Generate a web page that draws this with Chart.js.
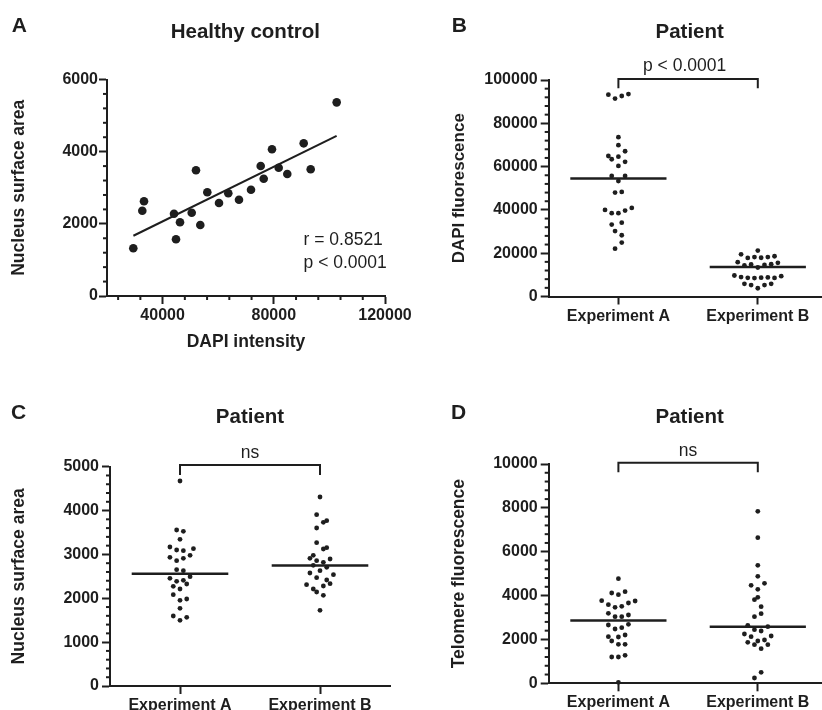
<!DOCTYPE html>
<html>
<head>
<meta charset="utf-8">
<script src="https://cdn.jsdelivr.net/npm/chart.js@4.4.1/dist/chart.umd.min.js"></script>
<style>
  html, body { margin: 0; padding: 0; background: #fff; overflow: hidden; width: 822px; height: 710px; }
  #fig { position: relative; width: 822px; height: 710px; overflow: hidden; font-family: "Liberation Sans", Arial, sans-serif; color: #1e1e1e; }
  #fig canvas { position: absolute; left: 0; top: 0; }
  .letter { position: absolute; font-size: 21px; font-weight: bold; line-height: 1; white-space: nowrap; }
  .title { position: absolute; width: 300px; text-align: center; font-size: 20.5px; font-weight: bold; line-height: 1; white-space: nowrap; }
</style>
</head>
<body>
<div id="fig">
  <canvas id="cA" width="840" height="720"></canvas>
  <canvas id="cB" width="840" height="720"></canvas>
  <canvas id="cC" width="840" height="720"></canvas>
  <canvas id="cD" width="840" height="720"></canvas>
  <div class="letter" style="left:11.7px;top:13.9px">A</div>
  <div class="letter" style="left:451.7px;top:13.9px">B</div>
  <div class="letter" style="left:11px;top:400.5px">C</div>
  <div class="letter" style="left:451px;top:400.5px">D</div>
  <div class="title" style="left:95.3px;top:21px">Healthy control</div>
  <div class="title" style="left:539.7px;top:21px">Patient</div>
  <div class="title" style="left:100px;top:406px">Patient</div>
  <div class="title" style="left:539.7px;top:406px">Patient</div>
</div>
<script>
const FONT = "'Liberation Sans', Arial, sans-serif";
const INK = "#1e1e1e";
Chart.defaults.font.family = FONT;
Chart.defaults.color = INK;

// panel A: healthy control, DAPI intensity vs nucleus surface area
const dapiIntensity = [29460, 32700, 33310, 44100, 44820, 46260, 50470, 52010, 53560, 56080, 60290,
                       63630, 67480, 71800, 75290, 76370, 79350, 81760, 84850, 90750, 93270, 102620];
const nucleusArea   = [1322, 2364, 2624, 2281, 1571, 2042, 2308, 3483, 1967, 2874, 2577,
                       2846, 2668, 2946, 3602, 3250, 4065, 3555, 3381, 4231, 3511, 5367];
const fitX = [29500, 102600];
const fitY = [1670, 4440];

const groups = ["Experiment A", "Experiment B"];

// panel B: DAPI fluorescence (steps = sideways slot of each dot in the scatter column)
const dapiExpA = [93200, 91400, 92600, 93500, 73600, 69900, 67100, 64900, 63400, 64600, 62200, 60300, 55700, 55700,
                  53300, 48000, 48300, 40000, 38500, 38500, 39700, 40900, 33200, 34100, 30200, 28300, 24900, 22100];
const dapiStepA = [-3, -1, 1, 3, 0, 0, 2, -3, -2, 0, 2, 0, -2, 2, 0, -1, 1, -4, -2, 0, 2, 4, -2, 1, -1, 1, 1, -1];
const dapiExpB = [21200, 19500, 17800, 18200, 17900, 18200, 18600, 15870, 14310, 14800, 13400, 14600, 14900, 15550,
                  9700, 8950, 8630, 8500, 8700, 8800, 8600, 9400, 5860, 5260, 3800, 5260, 5860];
const dapiStepB = [0, -5, -3, -1, 1, 3, 5, -6, -4, -2, 0, 2, 4, 6, -7, -5, -3, -1, 1, 3, 5, 7, -4, -2, 0, 2, 4];
const dapiMedians = [54500, 13570];

// panel C: nucleus surface area
const areaExpA = [4674, 3557, 3527, 3345, 3169, 3101, 3085, 3131, 2934, 2857, 2911, 2979, 2652, 2629,
                  2492, 2456, 2387, 2410, 2273, 2326, 2212, 2082, 1954, 1984, 1771, 1596, 1498, 1566];
const areaStepA = [0, -1, 1, 0, -3, -1, 1, 4, -3, -1, 1, 3, -1, 1, 3, -3, -1, 1, -2, 2, 0, -2, 0, 2, 0, -2, 0, 2];
const areaExpB = [4309, 3906, 3732, 3769, 3602, 3268, 3124, 3154, 2979, 2911, 2857, 2896, 2820, 2752,
                  2706, 2629, 2576, 2538, 2470, 2417, 2333, 2310, 2212, 2280, 2143, 2068, 1726];
const areaStepB = [0, -1, 1, 2, -1, -1, 1, 2, -2, -3, -1, 3, 1, -2, 2, 0, -3, 4, -1, 2, 3, -4, -2, 1, -1, 1, 0];
const areaMedians = [2560, 2750];

// panel D: telomere fluorescence
const teloExpA = [4770, 4118, 4040, 4177, 3767, 3584, 3466, 3511, 3662, 3753, 3192, 3037, 3037, 3114,
                  2658, 2476, 2535, 2690, 2125, 1929, 1778, 1778, 2111, 2202, 1199, 1199, 1277, 46];
const teloStepA = [0, -2, 0, 2, -5, -3, -1, 1, 3, 5, -3, -1, 1, 3, -3, -1, 1, 3, -3, -2, 0, 2, 0, 2, -2, 0, 2, 0];
const teloExpB = [7843, 6640, 5381, 4879, 4469, 4560, 4286, 3812, 3922, 3493, 3174, 3037, 2645, 2581,
                  2444, 2385, 2248, 2125, 2157, 1929, 1974, 1870, 1760, 1760, 1578, 502, 242];
const teloStepB = [0, 0, 0, 0, -2, 2, 0, -1, 0, 1, 1, -1, -3, 3, -1, 1, -4, -2, 4, 0, 2, -3, -1, 3, 1, 1, -1];
const teloMedians = [2865, 2580];

const STEP = 0.024;      // half a dot width, in category units
const CW = 840, CH = 720;

const minorTicks = {
  id: "minorTicks",
  afterDraw(chart, args, opts) {
    const ctx = chart.ctx;
    ctx.save();
    ctx.strokeStyle = INK;
    ctx.lineWidth = 2;
    ["x", "y"].forEach(id => {
      const step = opts[id];
      if (!step) return;
      const s = chart.scales[id];
      const majors = s.ticks.map(t => t.value);
      for (let v = Math.ceil(s.min / step) * step; v <= s.max + 1e-6; v += step) {
        if (majors.some(m => Math.abs(m - v) < step / 10)) continue;
        const p = s.getPixelForValue(v);
        ctx.beginPath();
        if (id === "y") { ctx.moveTo(s.right - 4, p); ctx.lineTo(s.right, p); }
        else { ctx.moveTo(p, s.top); ctx.lineTo(p, s.top + 4); }
        ctx.stroke();
      }
    });
    ctx.restore();
  }
};

const notes = {
  id: "notes",
  afterDraw(chart, args, opts) {
    const { ctx, scales: { x, y } } = chart;
    (opts.items || []).forEach(n => {
      ctx.save();
      ctx.font = "17.5px " + FONT;
      ctx.fillStyle = INK;
      ctx.textAlign = n.align;
      ctx.textBaseline = "alphabetic";
      ctx.fillText(n.text, x.getPixelForValue(n.x), y.getPixelForValue(n.y));
      ctx.restore();
    });
  }
};

const tickFont = { family: FONT, size: 16, weight: "bold" };
const axisGrid = { drawOnChartArea: false, tickLength: 8, tickWidth: 2, tickColor: INK };
const axisBorder = { color: INK, width: 2 };

function yAxis(min, max, step, title, titleSize, width, pad) {
  return {
    min: min, max: max,
    ticks: { stepSize: step, padding: pad, color: INK, font: tickFont, callback: v => String(v) },
    grid: axisGrid,
    border: axisBorder,
    title: { display: true, text: title, color: INK, padding: 0, font: { family: FONT, size: titleSize, weight: "bold" } },
    afterFit: s => { s.width = width; }
  };
}

function groupAxis(height) {
  return {
    type: "linear", min: -0.5, max: 1.5,
    afterBuildTicks: s => { s.ticks = groups.map((g, i) => ({ value: i })); },
    ticks: { padding: 2, color: INK, font: tickFont, callback: v => groups[v] },
    grid: axisGrid,
    border: axisBorder,
    afterFit: s => { s.height = height; }
  };
}

function swarm(values, steps, g) {
  return values.map((v, i) => ({ x: g + steps[i] * STEP, y: v }));
}

function dots(data, r) {
  return { data: data, pointRadius: r, pointHoverRadius: r, pointBackgroundColor: INK, pointBorderWidth: 0, showLine: false, clip: false };
}

function line(data, w) {
  return { data: data, showLine: true, borderColor: INK, borderWidth: w, pointRadius: 0, fill: false, clip: false };
}

function bracket(top, tip) {
  return line([{ x: 0, y: tip }, { x: 0, y: top }, { x: 1, y: top }, { x: 1, y: tip }], 2);
}

function medians(m) {
  return m.map((v, g) => line([{ x: g - 0.345, y: v }, { x: g + 0.345, y: v }], 2.5));
}

function area(left, top, right, bottom, yW, xH) {
  return { left: left - yW, top: top, right: CW - right, bottom: CH - bottom - xH };
}

function groupPanel(id, box, yW, yCfg, series, meds, br, note) {
  new Chart(document.getElementById(id), {
    type: "scatter",
    data: {
      datasets: [
        dots(swarm(series[0], series[1], 0), 2.4),
        dots(swarm(series[2], series[3], 1), 2.4),
        ...medians(meds),
        bracket(br[0], br[1])
      ]
    },
    options: {
      responsive: false,
      animation: false,
      layout: { padding: area(box[0], box[1], box[2], box[3], yW, 40) },
      scales: { x: groupAxis(40), y: yCfg },
      plugins: {
        legend: { display: false },
        tooltip: { enabled: false },
        minorTicks: { y: yCfg.ticks.stepSize / 5 },
        notes: { items: [note] }
      }
    },
    plugins: [minorTicks, notes]
  });
}

// panel A
new Chart(document.getElementById("cA"), {
  type: "scatter",
  data: {
    datasets: [
      dots(dapiIntensity.map((v, i) => ({ x: v, y: nucleusArea[i] })), 4.3),
      line(fitX.map((v, i) => ({ x: v, y: fitY[i] })), 2)
    ]
  },
  options: {
    responsive: false,
    animation: false,
    layout: { padding: area(107, 79.5, 385, 296, 98.5, 56.7) },
    scales: {
      x: {
        type: "linear", min: 20000, max: 120000,
        afterBuildTicks: s => { s.ticks = [40000, 80000, 120000].map(v => ({ value: v })); },
        ticks: { padding: 2, color: INK, font: tickFont, callback: v => String(v) },
        grid: axisGrid,
        border: axisBorder,
        title: { display: true, text: "DAPI intensity", color: INK, padding: 0, font: { family: FONT, size: 17.5, weight: "bold" } },
        afterFit: s => { s.height = 56.7; }
      },
      y: yAxis(0, 6000, 2000, "Nucleus surface area", 17.5, 98.5, 1)
    },
    plugins: {
      legend: { display: false },
      tooltip: { enabled: false },
      minorTicks: { x: 8000, y: 400 },
      notes: { items: [
        { text: "r = 0.8521", x: 90700, y: 1413, align: "left" },
        { text: "p < 0.0001", x: 90700, y: 776, align: "left" }
      ] }
    }
  },
  plugins: [minorTicks, notes]
});

groupPanel("cB", [548.7, 80, 827.5, 296.5], 99.6,
  yAxis(0, 100000, 20000, "DAPI fluorescence", 17, 99.6, 3),
  [dapiExpA, dapiStepA, dapiExpB, dapiStepB], dapiMedians, [100460, 96170],
  { text: "p < 0.0001", x: 0.475, y: 104200, align: "center" });

groupPanel("cC", [110, 466.7, 390, 686], 101.2,
  yAxis(0, 5000, 1000, "Nucleus surface area", 17.5, 101.2, 3),
  [areaExpA, areaStepA, areaExpB, areaStepB], areaMedians, [5040, 4810],
  { text: "ns", x: 0.5, y: 5205, align: "center" });

groupPanel("cD", [548.7, 464, 827.5, 683.3], 99.9,
  yAxis(0, 10000, 2000, "Telomere fluorescence", 17.5, 99.9, 3),
  [teloExpA, teloStepA, teloExpB, teloStepB], teloMedians, [10060, 9620],
  { text: "ns", x: 0.5, y: 10365, align: "center" });
</script>
</body>
</html>
